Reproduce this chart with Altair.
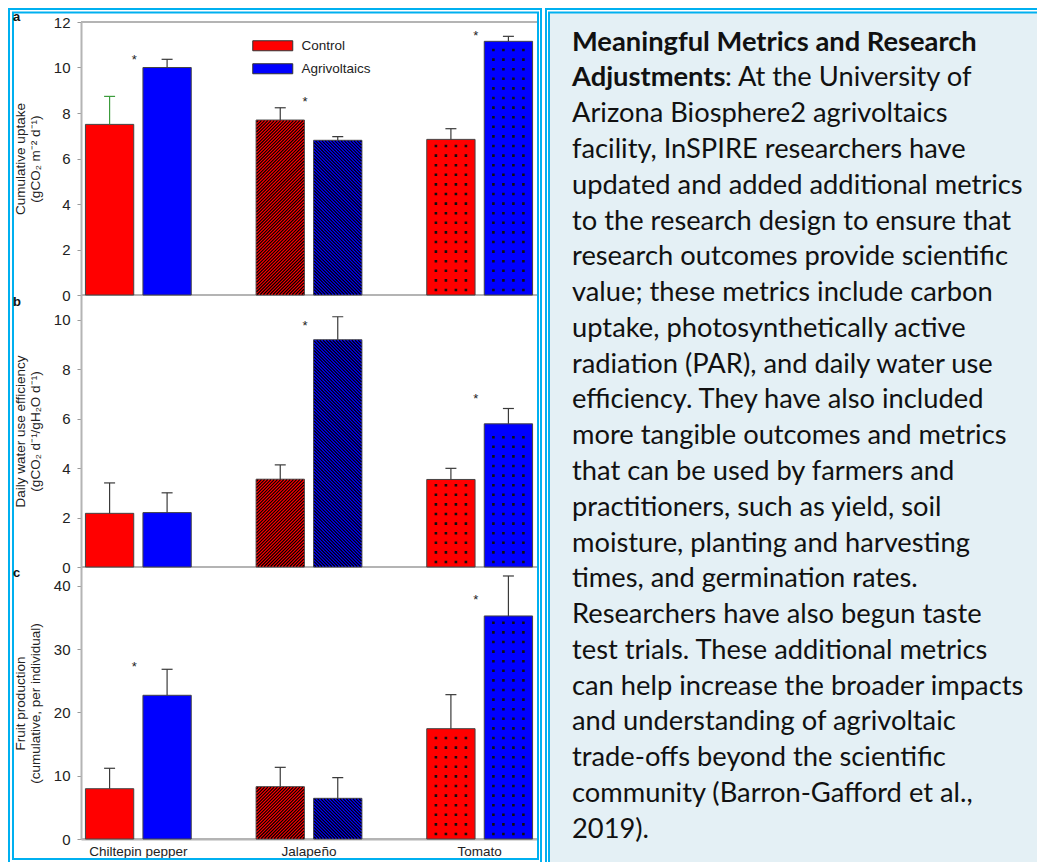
import altair as alt
import pandas as pd

# ---------------- data ----------------
crops = ["Chiltepin pepper", "Jalapeño", "Tomato"]
series = ["Control", "Agrivoltaics"]

uptake_control = [7.50, 7.69, 6.84]
uptake_control_se = [1.23, 0.54, 0.47]
uptake_agri = [10.00, 6.80, 11.15]
uptake_agri_se = [0.36, 0.16, 0.22]
uptake_star = [10.46, 8.62, 11.52]

wue_control = [2.17, 3.55, 3.54]
wue_control_se = [1.23, 0.58, 0.45]
wue_agri = [2.20, 9.19, 5.79]
wue_agri_se = [0.80, 0.93, 0.62]
wue_star = [None, 9.85, 6.91]

fruit_control = [7.95, 8.27, 17.44]
fruit_control_se = [3.23, 3.06, 5.38]
fruit_agri = [22.72, 6.43, 35.26]
fruit_agri_se = [4.11, 3.27, 6.32]
fruit_star = [27.6, None, 38.3]

uptake_ticks = [0, 2, 4, 6, 8, 10, 12]
wue_ticks = [0, 2, 4, 6, 8, 10]
fruit_ticks = [0, 10, 20, 30, 40]

title_bold = ["Meaningful Metrics and Research", "Adjustments"]
title_rest = ": At the University of"
text_lines = [
    "Arizona Biosphere2 agrivoltaics",
    "facility, InSPIRE researchers have",
    "updated and added additional metrics",
    "to the research design to ensure that",
    "research outcomes provide scientific",
    "value; these metrics include carbon",
    "uptake, photosynthetically active",
    "radiation (PAR), and daily water use",
    "efficiency. They have also included",
    "more tangible outcomes and metrics",
    "that can be used by farmers and",
    "practitioners, such as yield, soil",
    "moisture, planting and harvesting",
    "times, and germination rates.",
    "Researchers have also begun taste",
    "test trials. These additional metrics",
    "can help increase the broader impacts",
    "and understanding of agrivoltaic",
    "trade-offs beyond the scientific",
    "community (Barron-Gafford et al.,",
    "2019).",
]

# ---------------- style ----------------
FONT = "Liberation Sans"
TFONT = "Lato"
BLUE = "#00b0f0"
BG = "#e4f0f5"
AXIS_GREY = "#b4b4b4"
ERR = "#3a3a3a"
GREEN = "#3c9c3c"
PLOT_W = 456
P_IN, P_OUT, P_IN2 = 0.38, 0.026, 0.16
step = PLOT_W / (3 - P_IN + 2 * P_OUT)
BAR_W = step * (1 - P_IN) / (2 - P_IN2) * (1 - P_IN2)
DOTS = ("M-16.3,-1.3h2.6v2.6h-2.6Z M-6.3,-1.3h2.6v2.6h-2.6Z "
        "M3.7,-1.3h2.6v2.6h-2.6Z M13.7,-1.3h2.6v2.6h-2.6Z")

X = alt.X("crop:N", sort=crops, title=None,
          scale=alt.Scale(range=[0, PLOT_W], paddingInner=P_IN, paddingOuter=P_OUT),
          axis=alt.Axis(orient="bottom", labelFont=FONT, labelFontSize=13.5, labelColor="#222",
                        labelPadding=5, ticks=False, domainColor=AXIS_GREY, domainWidth=2,
                        labelAngle=0))
XO = alt.XOffset("series:N", sort=series,
                 scale=alt.Scale(paddingInner=P_IN2, paddingOuter=0))
COLOR = alt.Color("series:N", sort=series,
                  scale=alt.Scale(domain=series, range=["#ff0000", "#0000ff"]),
                  legend=alt.Legend(orient="none", legendX=185, legendY=17, title=None,
                                    symbolType="M-4,-1H4V1H-4Z", symbolSize=100,
                                    symbolStrokeColor="#333", symbolStrokeWidth=1,
                                    symbolOpacity=1, labelFont=FONT, labelFontSize=13.5,
                                    labelColor="#222", labelOffset=22, rowPadding=8,
                                    padding=0))


def hatch_path(W, H, period, direction):
    """Diagonal hatch lines clipped to a W x H box centred on the origin."""
    parts = []
    n = int((W + H) / period) + 1
    for i in range(n):
        c = period * (i + 0.5)
        if direction == "/":
            if c > W + H:
                break
            xa, xb = max(0.0, c - H), min(W, c)
            ya, yb = c - xa, c - xb
        else:
            c = c - H
            if c > W:
                break
            xa, xb = max(0.0, c), min(W, c + H)
            ya, yb = xa - c, xb - c
        parts.append(f"M{xa - W / 2:.2f},{ya - H / 2:.2f}L{xb - W / 2:.2f},{yb - H / 2:.2f}")
    return "".join(parts)


def make_panel(ctrl, ctrl_se, agri, agri_se, stars, dmax, rng, ticks, title, title_y,
               green_first, top_line):
    rows = []
    for i, c in enumerate(crops):
        for s, v, e in (("Control", ctrl[i], ctrl_se[i]), ("Agrivoltaics", agri[i], agri_se[i])):
            rows.append({"crop": c, "series": s, "value": v, "upper": round(v + e, 3),
                         "star": stars[i]})
    df = pd.DataFrame(rows)
    ppu = (rng[0] - rng[1]) / dmax
    ysc = alt.Scale(domain=[0, dmax], range=list(rng), nice=False, zero=True)
    yax = alt.Axis(orient="left", values=ticks, title=title, titleX=-61, titleY=title_y,
                   titleAngle=270, titleAlign="center", titleBaseline="middle",
                   titleFont=FONT, titleFontSize=13.5, titleFontWeight="normal",
                   titleColor="#222", titleLineHeight=15, labelFont=FONT, labelFontSize=15,
                   labelColor="#222", labelPadding=7, tickSize=4, tickColor="#999",
                   domainColor=AXIS_GREY, domainWidth=2, grid=False)

    def Y(field):
        return alt.Y(f"{field}:Q", scale=ysc, axis=yax)

    frames = [0] + ([dmax] if top_line else [])
    frame = alt.Chart(pd.DataFrame({"z": frames})).mark_rule(
        color=AXIS_GREY, strokeWidth=2).encode(y=Y("z"), x=alt.value(0), x2=alt.value(PLOT_W))

    bars = alt.Chart(df).mark_bar(stroke="#444", strokeWidth=1).encode(
        x=X, xOffset=XO, y=Y("value"), color=COLOR)

    hatches = []
    for j, (s, d) in enumerate((("Control", "/"), ("Agrivoltaics", "\\"))):
        v = (ctrl if j == 0 else agri)[1]
        path = hatch_path(BAR_W - 1, v * ppu - 1, 3.2, d)
        hatches.append(
            alt.Chart(df).transform_filter(
                f"datum.crop == '{crops[1]}' && datum.series == '{s}'"
            ).transform_calculate(mid="datum.value / 2").mark_point(
                shape=path, size=4, filled=False, stroke="#000", strokeWidth=1.1, opacity=1
            ).encode(x=X, xOffset=XO, y=Y("mid")))

    dots = alt.Chart(df).transform_filter(f"datum.crop == '{crops[2]}'").transform_calculate(
        rows=f"sequence(0, floor((datum.value*{ppu:.4f} - 9)/9.6) + 1)"
    ).transform_flatten(["rows"]).transform_calculate(
        dot=f"(datum.rows*9.6 + 5)/{ppu:.4f}"
    ).mark_point(shape=DOTS, size=4, filled=True, color="#111", opacity=1).encode(
        x=X, xOffset=XO, y=Y("dot"))

    if green_first:
        ecol = alt.condition(f"datum.crop == '{crops[0]}' && datum.series == 'Control'",
                             alt.value(GREEN), alt.value(ERR))
    else:
        ecol = alt.value(ERR)
    rules = alt.Chart(df).mark_rule(strokeWidth=1.2).encode(
        x=X, xOffset=XO, y=Y("value"), y2="upper:Q", color=ecol)
    caps = alt.Chart(df).mark_tick(orient="horizontal", size=11, thickness=1.2,
                                   opacity=1).encode(x=X, xOffset=XO, y=Y("upper"), color=ecol)
    star = alt.Chart(df).transform_filter(
        "datum.series == 'Control' && isValid(datum.star)"
    ).mark_text(text="*", fontSize=13, font=FONT, color="#222", dx=-4, dy=3).encode(
        x=X, y=Y("star"))
    return alt.layer(frame, bars, *hatches, dots, rules, caps, star)


pA = make_panel(uptake_control, uptake_control_se, uptake_agri, uptake_agri_se, uptake_star,
                12, (273, 0), uptake_ticks, ["Cumulative uptake", "(gCO₂ m⁻² d⁻¹)"], 136.5,
                True, True)
pB = make_panel(wue_control, wue_control_se, wue_agri, wue_agri_se, wue_star,
                11, (545, 273), wue_ticks,
                ["Daily water use efficiency", "(gCO₂ d⁻¹/gH₂O d⁻¹)"], 409, False, False)
pC = make_panel(fruit_control, fruit_control_se, fruit_agri, fruit_agri_se, fruit_star,
                43, (817, 545), fruit_ticks,
                ["Fruit production", "(cumulative, per individual)"], 681, False, False)

one = pd.DataFrame({"k": [0]})

text_bg = alt.Chart(one).mark_rect(fill=BG).encode(
    x=alt.value(468), x2=alt.value(960), y=alt.value(-9), y2=alt.value(850))
left_outer = alt.Chart(one).mark_rect(fillOpacity=0, stroke=BLUE, strokeWidth=2).encode(
    x=alt.value(-72), x2=alt.value(460), y=alt.value(-13), y2=alt.value(880))
left_inner = alt.Chart(one).mark_rect(fillOpacity=0, stroke=BLUE, strokeWidth=2).encode(
    x=alt.value(-68), x2=alt.value(457), y=alt.value(-9.5), y2=alt.value(837))
right_outer = alt.Chart(one).mark_rect(fillOpacity=0, stroke=BLUE, strokeWidth=2).encode(
    x=alt.value(465), x2=alt.value(990), y=alt.value(-13), y2=alt.value(880))
right_inner = alt.Chart(one).mark_rect(fillOpacity=0, stroke=BLUE, strokeWidth=2).encode(
    x=alt.value(468), x2=alt.value(990), y=alt.value(-9.5), y2=alt.value(880))

letters = []
for ch, yy in (("a", -1), ("b", 284), ("c", 555)):
    letters.append(alt.Chart(one).mark_text(
        text=ch, font=FONT, fontSize=13, fontWeight="bold", color="#111",
        align="left", baseline="alphabetic").encode(x=alt.value(-68), y=alt.value(yy)))

TY = alt.Y("line:Q", scale=alt.Scale(domain=[0, 22], range=[28.7, 815.7], nice=False,
                                     zero=False), axis=None)
bold_df = pd.DataFrame({"line": [0, 1], "txt": title_bold})
reg_df = pd.DataFrame({"line": list(range(2, 2 + len(text_lines))), "txt": text_lines})
cont_df = pd.DataFrame({"line": [1], "txt": [title_rest]})
tkw = dict(align="left", baseline="alphabetic", font=TFONT, fontSize=27.3, color="#111")
t_bold = alt.Chart(bold_df).mark_text(fontWeight="bold", **tkw).encode(
    x=alt.value(491), y=TY, text="txt:N")
t_reg = alt.Chart(reg_df).mark_text(**tkw).encode(x=alt.value(491), y=TY, text="txt:N")
t_cont = alt.Chart(cont_df).mark_text(**tkw).encode(x=alt.value(644), y=TY, text="txt:N")
texts = alt.layer(t_bold, t_reg, t_cont)

chart = alt.layer(
    text_bg, left_outer, left_inner, right_outer, right_inner, *letters,
    pA, pB, pC, texts
).resolve_scale(y="independent").properties(
    width=956, height=817,
    padding={"left": 73, "top": 14, "right": 0, "bottom": 23},
    autosize=alt.AutoSizeParams(type="none"),
    background="white",
).configure_view(strokeWidth=0)

chart.save("out.html", embed_options={"renderer": "svg", "actions": False})
